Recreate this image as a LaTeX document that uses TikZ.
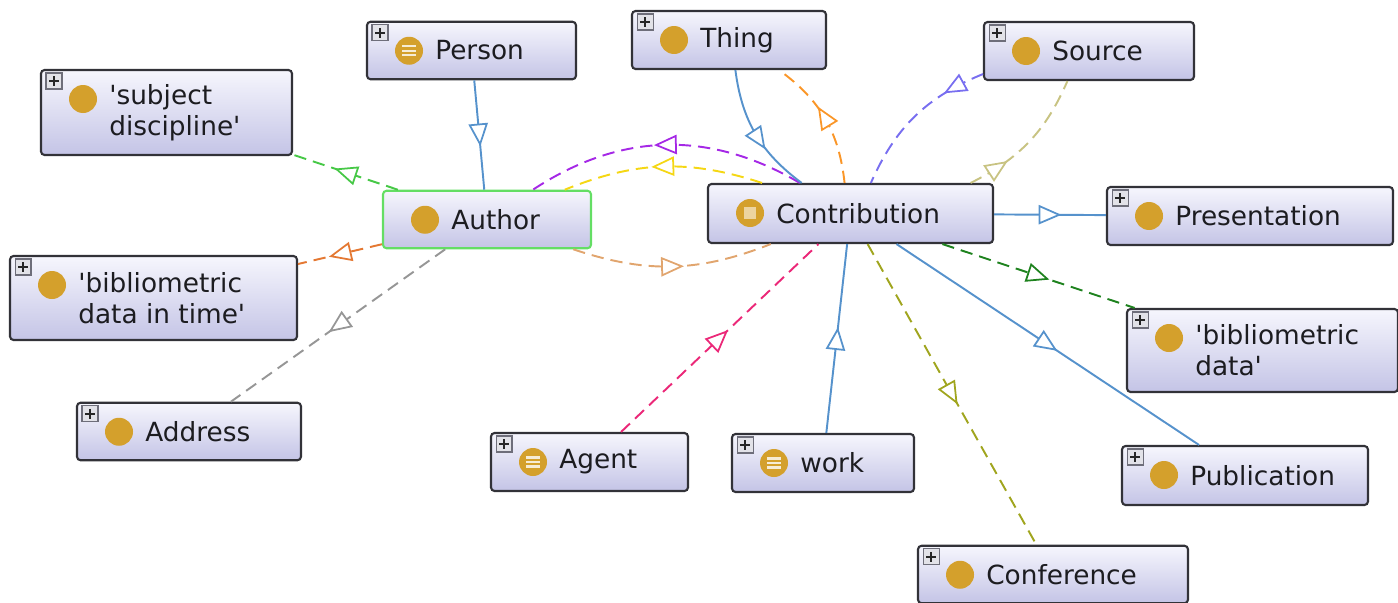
\documentclass[tikz,border=0pt]{standalone}
\usepackage{fontspec}
\newfontfamily\ontofont{DejaVu Sans}
\usepackage{tikz}
\usetikzlibrary{positioning, arrows.meta, calc, decorations.markings}

% small icons drawn inside the class boxes
\newcommand{\plusmark}{%
  \draw[sharp corners, fill=plusgray, draw=plusline, line width=0.6pt]
    ([shift={(0.1cm,-0.06cm)}]path picture bounding box.north west) rectangle ++(0.32cm,-0.32cm);
  \draw[sharp corners, draw=black!85, line width=1pt]
    ([shift={(0.26cm,-0.12cm)}]path picture bounding box.north west) -- ++(0cm,-0.2cm)
    ([shift={(0.16cm,-0.22cm)}]path picture bounding box.north west) -- ++(0.2cm,0cm);
}
\newcommand{\golddot}{%
  \fill[icongold] ([shift={(0.84cm,-0.58cm)}]path picture bounding box.north west) circle (0.28cm);
}
\newcommand{\eqlines}{%
  \draw[white!80!icongold, line width=1.3pt]
    ([shift={(0.70cm,-0.49cm)}]path picture bounding box.north west) -- ++(0.28cm,0cm)
    ([shift={(0.70cm,-0.58cm)}]path picture bounding box.north west) -- ++(0.28cm,0cm)
    ([shift={(0.70cm,-0.67cm)}]path picture bounding box.north west) -- ++(0.28cm,0cm);
}
\newcommand{\defsquare}{%
  \fill[white!55!icongold, sharp corners]
    ([shift={(0.72cm,-0.46cm)}]path picture bounding box.north west) rectangle ++(0.24cm,-0.24cm);
}

\begin{document}
\begin{tikzpicture}[x=0.02cm, y=-0.02cm, >=Latex, every node/.style={font=\ontofont\fontsize{15}{17.5}\selectfont}]
    % Define box and edge styles
    \definecolor{boxtop}{RGB}{246,246,253}
    \definecolor{boxbot}{RGB}{196,196,230}
    \definecolor{boxline}{RGB}{50,50,56}
    \definecolor{authline}{RGB}{100,222,100}
    \definecolor{icongold}{RGB}{212,160,44}
    \definecolor{plusgray}{RGB}{226,226,232}
    \definecolor{plusline}{RGB}{110,110,122}
    \definecolor{txtcol}{RGB}{28,28,32}
    \definecolor{subblue}{RGB}{86,146,204}
    \definecolor{lgreen}{RGB}{70,200,70}
    \definecolor{dkorange}{RGB}{228,120,50}
    \definecolor{edgegray}{RGB}{150,150,150}
    \definecolor{violet}{RGB}{165,40,230}
    \definecolor{gold}{RGB}{245,215,20}
    \definecolor{tan}{RGB}{225,165,110}
    \definecolor{orange}{RGB}{250,150,40}
    \definecolor{slate}{RGB}{120,110,240}
    \definecolor{khaki}{RGB}{200,195,130}
    \definecolor{dkgreen}{RGB}{30,130,30}
    \definecolor{olive}{RGB}{160,165,30}
    \definecolor{pink}{RGB}{235,40,120}
    \tikzset{
        tri/.tip={Triangle[length=13pt, width=11pt, fill=white, line width=1pt]},
        cls/.style={draw=boxline, line width=1.2pt, rounded corners=2pt, top color=boxtop, bottom color=boxbot, minimum height=1.15cm},
        closed/.style={cls, path picture={\plusmark\golddot}},
        equiv/.style={cls, path picture={\plusmark\golddot\eqlines}},
        lbl/.style={align=left, text=txtcol, inner sep=0pt},
        sub/.style={draw=subblue, line width=1.1pt, postaction={decorate}},
        rel/.style={draw=#1, line width=1.1pt, dash pattern=on 7pt off 4pt, postaction={decorate}},
        tipat/.style={decoration={markings, reset marks, mark=at position #1 with {\arrow[xshift=6.5pt]{tri}}}},
        tipat=0.5
    }
    \useasboundingbox (0,0) rectangle (1398,602);

    % Class boxes
    \node[equiv, minimum width=4.18cm] (person) at (471.5,50.5) {};
    \node[closed, minimum width=5.02cm, minimum height=1.70cm] (subj) at (166.5,112.5) {};
    \node[cls, draw=authline, path picture={\golddot}, minimum width=4.16cm] (author) at (487,219.5) {};
    \node[closed, minimum width=5.74cm, minimum height=1.68cm] (bibtime) at (153.5,298) {};
    \node[closed, minimum width=4.48cm] (address) at (189,431.5) {};
    \node[closed, minimum width=3.88cm, minimum height=1.16cm] (thing) at (729,40) {};
    \node[closed, minimum width=4.2cm, minimum height=1.16cm] (source) at (1089,51) {};
    \node[cls, path picture={\golddot\defsquare}, minimum width=5.7cm, minimum height=1.18cm] (contrib) at (850.5,213.5) {};
    \node[closed, minimum width=5.72cm, minimum height=1.16cm] (present) at (1250,216) {};
    \node[closed, minimum width=5.42cm, minimum height=1.66cm] (bibdata) at (1262.5,350.5) {};
    \node[equiv, minimum width=3.94cm, minimum height=1.16cm] (agent) at (589.5,462) {};
    \node[equiv, minimum width=3.64cm, minimum height=1.16cm] (work) at (823,463) {};
    \node[closed, minimum width=4.92cm, minimum height=1.18cm] (publ) at (1245,475.5) {};
    \node[closed, minimum width=5.4cm] (conf) at (1053,574.5) {};

    % Class names
    \node[lbl, right=1.38cm of person.west] (persontxt) {Person};
    \node[lbl, right=1.38cm of subj.west] (subjtxt) {'subject\\discipline'};
    \node[lbl, right=1.38cm of author.west] (authortxt) {Author};
    \node[lbl, right=1.38cm of bibtime.west] (bibtimetxt) {'bibliometric\\data in time'};
    \node[lbl, right=1.38cm of address.west] (addresstxt) {Address};
    \node[lbl, right=1.38cm of thing.west] (thingtxt) {Thing};
    \node[lbl, right=1.38cm of source.west] (sourcetxt) {Source};
    \node[lbl, right=1.38cm of contrib.west] (contribtxt) {Contribution};
    \node[lbl, right=1.38cm of present.west] (presenttxt) {Presentation};
    \node[lbl, right=1.38cm of bibdata.west] (bibdatatxt) {'bibliometric\\data'};
    \node[lbl, right=1.38cm of agent.west] (agenttxt) {Agent};
    \node[lbl, right=1.38cm of work.west] (worktxt) {work};
    \node[lbl, right=1.38cm of publ.west] (publtxt) {Publication};
    \node[lbl, right=1.38cm of conf.west] (conftxt) {Conference};

    % Edges around Author
    \draw[sub] (person) -- (author);
    \draw[rel=lgreen] (author) -- (subj);
    \draw[rel=dkorange] (author) -- (bibtime);
    \draw[rel=edgegray] (author) -- (address);
    \draw[rel=violet] (contrib) to[bend right=32] (author);
    \draw[rel=gold] (contrib) to[bend right=20] (author);
    \draw[rel=tan] (author) to[bend right=20] (contrib);

    % Edges around Contribution
    \draw[sub, tipat=0.55] (thing) to[bend right=23] (contrib);
    \draw[rel=orange, tipat=0.52] (contrib) to[bend right=24] (thing);
    \draw[rel=slate, tipat=0.2] (source) to[bend right=22] (contrib);
    \draw[rel=khaki, tipat=0.22] (contrib) to[bend right=20] (source);
    \draw[sub] (contrib) -- (present);
    \draw[rel=dkgreen] (contrib) -- (bibdata);
    \draw[sub] (contrib) -- (publ);
    \draw[rel=olive] (contrib) -- (conf);
    \draw[sub] (work) -- (contrib);
    \draw[rel=pink] (agent) -- (contrib);
\end{tikzpicture}
\end{document}
